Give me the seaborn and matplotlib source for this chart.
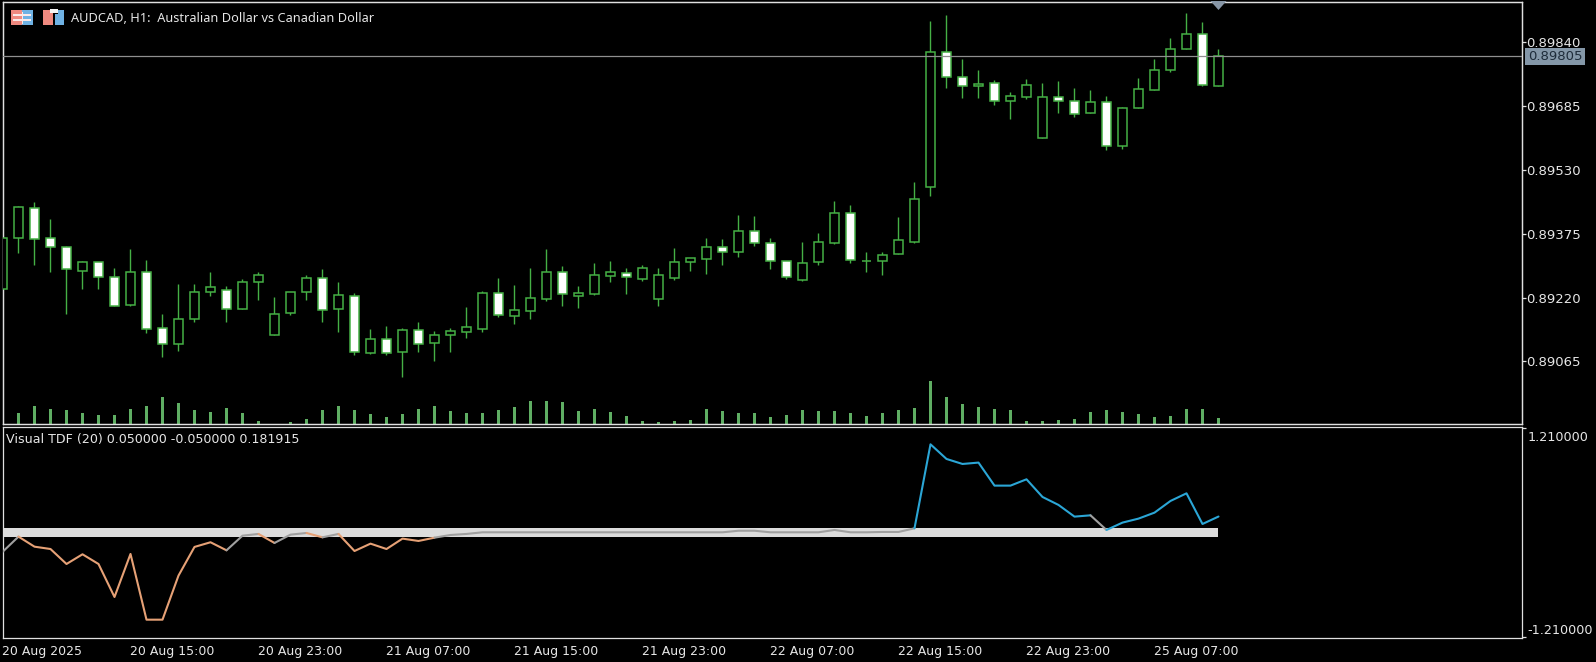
import numpy as np
import pandas as pd
import matplotlib
matplotlib.use("Agg")
import matplotlib.pyplot as plt
import seaborn as sns
from matplotlib.transforms import ScaledTranslation

# prices in points (1e-5)
opens = [89242, 89364, 89437, 89364, 89342, 89285, 89306, 89269, 89203, 89281, 89146, 89107, 89167, 89233, 89238, 89193,
         89259, 89130, 89182, 89233, 89267, 89192, 89223, 89086, 89119, 89089, 89141, 89111, 89130, 89137, 89145, 89230,
         89176, 89188, 89217, 89281, 89225, 89229, 89273, 89280, 89266, 89217, 89268, 89306, 89313, 89342, 89330, 89381,
         89352, 89308, 89262, 89306, 89352, 89425, 89308, 89308, 89325, 89356, 89488, 89815, 89754, 89733, 89740, 89696,
         89707, 89606, 89706, 89696, 89667, 89694, 89587, 89679, 89723, 89771, 89822, 89859, 89733]
highs = [89364, 89442, 89453, 89411, 89345, 89309, 89306, 89291, 89337, 89310, 89179, 89252, 89252, 89281, 89247, 89264,
         89281, 89221, 89233, 89274, 89289, 89257, 89230, 89143, 89150, 89146, 89162, 89138, 89146, 89196, 89235, 89267,
         89250, 89291, 89337, 89297, 89247, 89303, 89308, 89291, 89298, 89291, 89340, 89315, 89364, 89361, 89420, 89417,
         89364, 89308, 89354, 89376, 89454, 89444, 89330, 89330, 89415, 89500, 89890, 89905, 89798, 89771, 89747, 89718,
         89750, 89740, 89745, 89728, 89723, 89708, 89682, 89752, 89798, 89849, 89910, 89888, 89822]
lows = [89242, 89329, 89299, 89283, 89180, 89242, 89242, 89200, 89200, 89135, 89077, 89091, 89162, 89225, 89162, 89192,
        89214, 89130, 89178, 89214, 89162, 89136, 89080, 89084, 89081, 89028, 89089, 89067, 89089, 89123, 89137, 89174,
        89157, 89169, 89212, 89200, 89195, 89226, 89259, 89229, 89261, 89200, 89263, 89285, 89278, 89300, 89319, 89346,
        89290, 89266, 89261, 89298, 89349, 89303, 89283, 89275, 89325, 89353, 89467, 89729, 89705, 89705, 89688, 89654,
        89702, 89606, 89668, 89659, 89667, 89579, 89581, 89679, 89723, 89767, 89822, 89733, 89733]
closes = [89364, 89439, 89361, 89342, 89289, 89306, 89269, 89200, 89281, 89143, 89107, 89167, 89233, 89245, 89192, 89259,
          89276, 89179, 89233, 89267, 89189, 89226, 89087, 89119, 89085, 89141, 89107, 89129, 89138, 89148, 89230, 89177,
          89189, 89218, 89281, 89228, 89230, 89274, 89281, 89269, 89293, 89274, 89306, 89315, 89342, 89330, 89381, 89352,
          89308, 89269, 89303, 89354, 89425, 89310, 89308, 89323, 89359, 89458, 89815, 89754, 89733, 89737, 89696, 89708,
          89735, 89706, 89696, 89665, 89694, 89587, 89679, 89725, 89771, 89822, 89859, 89735, 89805]
volumes = [0, 32, 53, 44, 41, 32, 27, 27, 44, 53, 80, 62, 41, 35, 47, 32,
           9, 0, 6, 15, 41, 53, 41, 29, 20, 29, 44, 53, 38, 32, 32, 41,
           50, 68, 68, 65, 38, 44, 35, 23, 9, 6, 9, 12, 44, 38, 32, 32,
           20, 26, 41, 38, 38, 32, 23, 32, 41, 47, 128, 80, 59, 50, 44, 41,
           8, 8, 11, 14, 35, 41, 35, 29, 20, 23, 44, 44, 17]
tdf = [-0.227, -0.050, -0.166, -0.193, -0.366, -0.254, -0.366, -0.747, -0.250, -1.009, -1.009, -0.500, -0.169, -0.115,
       -0.208, -0.039, -0.019, -0.123, -0.027, -0.008, -0.058, -0.019, -0.216, -0.131, -0.193, -0.073, -0.100, -0.062,
       -0.031, -0.019, 0.0, 0.0, 0.0, 0.0, 0.0, 0.0, 0.0, 0.0, 0.0, 0.0, 0.0, 0.0, 0.0, 0.0, 0.0, 0.0, 0.018, 0.018,
       0.0, 0.0, 0.0, 0.0, 0.027, 0.0, 0.0, 0.004, 0.004, 0.046, 1.016, 0.847, 0.789, 0.805, 0.539, 0.539, 0.612, 0.408,
       0.316, 0.181, 0.196, 0.027, 0.112, 0.158, 0.227, 0.362, 0.450, 0.096, 0.181915]

price_ticks = [0.89065, 0.89220, 0.89375, 0.89530, 0.89685, 0.89840]
last_price = 0.89805
tdf_levels = [0.05, -0.05]
time_tick_bars = [0, 8, 16, 24, 32, 40, 48, 56, 64, 72]
time_tick_labels = ["20 Aug 2025", "20 Aug 15:00", "20 Aug 23:00", "21 Aug 07:00", "21 Aug 15:00",
                    "21 Aug 23:00", "22 Aug 07:00", "22 Aug 15:00", "22 Aug 23:00", "25 Aug 07:00"]

W, H = 1596, 662
GREEN = "#45b045"
VOLUME = "#5fae63"
TEXT = "#e6e6e6"
SPINE = "#e0e0e0"
BLUE = "#2ba6d6"
ORANGE = "#e6a176"
GREY = "#a0a0a0"
FONT = ["DejaVu Sans"]


def pane(left, top, right, bottom):
    return [left / W, 1 - bottom / H, (right - left) / W, (bottom - top) / H]


def px_rect(fig, x0, y0, x1, y1, color, zorder=5):
    fig.add_artist(plt.Rectangle((x0 / W, 1 - y1 / H), (x1 - x0) / W, (y1 - y0) / H, transform=fig.transFigure,
                                 facecolor=color, edgecolor="none", zorder=zorder))


def px_text(fig, x, y, s, size=8.6, color=TEXT, family=None):
    fig.text(x / W, 1 - y / H, s, color=color, fontsize=size, va="center", ha="left", family=family or FONT, zorder=7)


def draw_icons(fig):
    # chart window icons at top left
    px_rect(fig, 11, 10, 22, 25, "#f08a80")
    px_rect(fig, 22, 10, 33, 25, "#6fb2e4")
    for y in (14, 19):
        px_rect(fig, 13, y, 31, y + 1.5, "#fbeaea", 6)
    px_rect(fig, 21.5, 12, 23, 24, "#fbeaea", 6)
    px_rect(fig, 43, 10, 53, 25, "#f08a80")
    px_rect(fig, 55, 14, 64, 25, "#6fb2e4")
    px_rect(fig, 50, 9, 58, 13, "#f5f5f5", 6)
    px_rect(fig, 58, 10, 64, 14, "#6fb2e4")


def style_axis(ax):
    ax.grid(False)
    for spine in ax.spines.values():
        spine.set_color(SPINE)
        spine.set_linewidth(0.9)
    ax.set_xlim(0, 95)
    ax.set_xlabel("")
    ax.set_ylabel("")


def draw_candles(ax):
    idx = np.arange(len(closes))
    o, h, l, c = [np.array(a) / 1e5 for a in (opens, highs, lows, closes)]
    ax.vlines(idx, l, h, color=GREEN, linewidth=1.0, zorder=2)
    faces = ["white" if a < b else "black" for a, b in zip(c, o)]
    ax.bar(idx, np.abs(c - o), bottom=np.minimum(o, c), width=0.58, color=faces, edgecolor=GREEN,
           linewidth=1.1, zorder=3)
    ax.axhline(last_price, color="#8f8f8f", linewidth=0.9, zorder=4)
    ax.set_ylim(0.889134, 0.899382)
    ax.set_yticks(price_ticks)
    ax.set_yticklabels([f"{p:.5f}" for p in price_ticks])
    ax.yaxis.tick_right()
    ax.tick_params(axis="y", length=2.6, width=0.9, color=SPINE, labelcolor=TEXT, labelsize=9.5, pad=0)
    ax.set_xticks([])


def draw_volumes(ax):
    idx = np.arange(len(volumes))
    sns.barplot(x=idx, y=volumes, native_scale=True, width=0.13, color=VOLUME, saturation=1, linewidth=0, ax=ax)
    ax.set_ylim(0, 1267)
    ax.set_yticks([])
    ax.set_xticks([])


def draw_tdf(ax, fig):
    idx = np.arange(len(tdf))
    ax.fill_between(idx, tdf_levels[1], tdf_levels[0], color="#dcdcdc", linewidth=0, zorder=1)
    values = np.array(tdf)
    # a segment takes the colour of the bar it ends on
    states = [BLUE if v > tdf_levels[0] else ORANGE if v < tdf_levels[1] else GREY for v in values]
    start = 0
    for i in range(1, len(values)):
        if i == len(values) - 1 or states[i + 1] != states[i]:
            seg = pd.DataFrame({"bar": idx[start:i + 1], "value": values[start:i + 1]})
            sns.lineplot(data=seg, x="bar", y="value", color=states[i], linewidth=1.5, errorbar=None, ax=ax, zorder=3)
            start = i
    ax.set_ylim(-1.2206, 1.2217)
    ax.set_yticks([-1.21, 1.21])
    ax.set_yticklabels(["-1.210000", "1.210000"])
    ax.yaxis.tick_right()
    ax.tick_params(axis="y", length=2.6, width=0.9, color=SPINE, labelcolor=TEXT, labelsize=9.2, pad=1)
    labels = ax.get_yticklabels()
    labels[0].set_va("bottom")
    labels[1].set_va("top")
    labels[1].set_transform(labels[1].get_transform() + ScaledTranslation(0, -3 / 100, fig.dpi_scale_trans))
    ax.set_xticks(time_tick_bars)
    ax.set_xticklabels(time_tick_labels, ha="left")
    ax.tick_params(axis="x", length=3, width=0.9, color=SPINE, labelcolor=TEXT, labelsize=9, pad=2)


def get_plot():
    sns.set_theme(style="dark", rc={"figure.facecolor": "black", "savefig.facecolor": "black"})
    plt.rcParams["font.family"] = FONT
    fig = plt.figure(figsize=(W / 100, H / 100), dpi=100)

    ax_price = fig.add_axes(pane(2.5, 1.5, 1522.5, 424))
    ax_vol = ax_price.twinx()
    ax_tdf = fig.add_axes(pane(2.5, 426.5, 1522.5, 638))

    ax_vol.set_zorder(1)
    ax_vol.set_facecolor("black")
    ax_price.set_zorder(2)
    ax_price.patch.set_alpha(0)
    ax_tdf.set_facecolor("black")

    draw_candles(ax_price)
    draw_volumes(ax_vol)
    draw_tdf(ax_tdf, fig)
    for ax in (ax_vol, ax_price, ax_tdf):
        style_axis(ax)

    draw_icons(fig)
    px_text(fig, 71, 18, "AUDCAD, H1:  Australian Dollar vs Canadian Dollar", family=["Noto Sans"], size=9.2)
    px_text(fig, 6, 439, "Visual TDF (20) 0.050000 -0.050000 0.181915", size=9.1)

    # last price tag on the price scale
    px_rect(fig, 1525, 48, 1585, 65, "#8497a8")
    px_text(fig, 1528, 56.5, f"{last_price:.5f}", size=9.5, color="#1e2c3a")

    # ask marker clipped by the top of the pane
    fig.add_artist(plt.Polygon([(1210.5 / W, 1 - 1 / H), (1226.5 / W, 1 - 1 / H), (1218.5 / W, 1 - 10 / H)],
                               transform=fig.transFigure, facecolor="#8796a6", edgecolor="none", zorder=6))

    fig.savefig("out.png", dpi=100)


if __name__ == "__main__":
    get_plot()
